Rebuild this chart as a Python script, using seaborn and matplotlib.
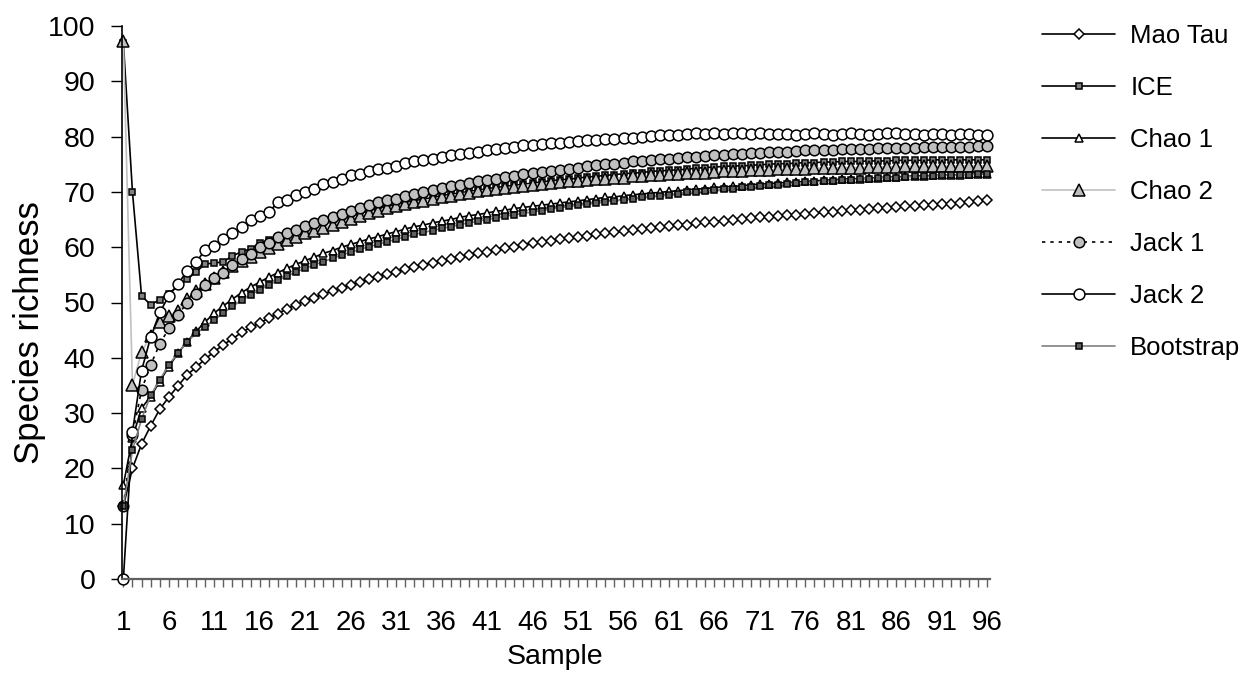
import matplotlib
matplotlib.use("Agg")
import matplotlib.pyplot as plt
import seaborn as sns
import numpy as np
import pandas as pd
from matplotlib.ticker import FixedLocator, MultipleLocator

samples = list(range(1, 97))

mao_tau = [13.2, 20.0, 24.4, 27.7, 30.7, 32.9, 34.9, 36.9, 38.3, 39.8,
           41.1, 42.4, 43.4, 44.6, 45.5, 46.3, 47.2, 48.0, 48.9, 49.6,
           50.3, 50.9, 51.5, 52.1, 52.7, 53.2, 53.7, 54.2, 54.7, 55.2,
           55.6, 56.0, 56.4, 56.8, 57.2, 57.5, 57.9, 58.2, 58.6, 58.9,
           59.2, 59.5, 59.8, 60.1, 60.4, 60.7, 60.9, 61.2, 61.4, 61.6,
           61.9, 62.1, 62.3, 62.5, 62.7, 62.9, 63.1, 63.3, 63.4, 63.6,
           63.8, 64.0, 64.1, 64.3, 64.5, 64.6, 64.8, 64.9, 65.1, 65.2,
           65.4, 65.5, 65.6, 65.8, 65.9, 66.0, 66.2, 66.3, 66.4, 66.5,
           66.7, 66.8, 66.9, 67.0, 67.1, 67.2, 67.4, 67.5, 67.6, 67.7,
           67.8, 67.9, 68.0, 68.1, 68.3, 68.6]

ice = [97.0, 70.0, 51.2, 49.6, 50.5, 51.6, 53.0, 54.2, 55.5, 57.0,
       57.1, 57.4, 58.4, 59.2, 59.7, 60.7, 61.3, 61.9, 62.4, 63.0,
       63.5, 64.0, 64.5, 65.0, 65.4, 65.8, 66.2, 66.6, 67.0, 67.4,
       67.7, 68.1, 68.4, 68.7, 69.0, 69.3, 69.6, 69.8, 70.1, 70.3,
       70.6, 70.8, 71.0, 71.2, 71.4, 71.6, 71.8, 72.0, 72.2, 72.3,
       72.5, 72.7, 72.8, 73.0, 73.1, 73.3, 73.4, 73.5, 73.7, 73.8,
       73.9, 74.0, 74.1, 74.3, 74.4, 74.5, 74.6, 74.7, 74.7, 74.8,
       74.9, 75.0, 75.1, 75.1, 75.2, 75.3, 75.3, 75.4, 75.4, 75.5,
       75.5, 75.5, 75.6, 75.6, 75.6, 75.7, 75.7, 75.7, 75.7, 75.8,
       75.8, 75.8, 75.8, 75.8, 75.8, 75.8]

chao1 = [17.0, 25.5, 30.9, 33.0, 35.7, 38.4, 40.8, 42.9, 44.8, 46.5,
         48.1, 49.4, 50.6, 51.8, 52.8, 53.7, 54.6, 55.4, 56.2, 56.9,
         57.6, 58.2, 58.9, 59.4, 60.0, 60.5, 61.0, 61.5, 61.9, 62.4,
         62.8, 63.3, 63.7, 64.0, 64.4, 64.7, 65.0, 65.4, 65.7, 65.9,
         66.2, 66.5, 66.7, 67.0, 67.2, 67.4, 67.6, 67.8, 68.0, 68.2,
         68.4, 68.6, 68.8, 69.0, 69.1, 69.3, 69.5, 69.6, 69.8, 69.9,
         70.1, 70.2, 70.4, 70.5, 70.6, 70.8, 70.9, 71.0, 71.1, 71.3,
         71.4, 71.5, 71.6, 71.7, 71.8, 71.9, 72.0, 72.1, 72.2, 72.3,
         72.4, 72.4, 72.5, 72.6, 72.7, 72.7, 72.8, 72.9, 72.9, 73.0,
         73.0, 73.1, 73.1, 73.2, 73.2, 73.3]

chao2 = [97.2, 35.1, 41.0, 44.0, 46.5, 47.6, 48.5, 50.6, 52.0, 53.3,
         54.5, 55.6, 56.6, 57.5, 58.3, 59.2, 59.9, 60.6, 61.3, 61.9,
         62.5, 63.0, 63.5, 64.0, 64.6, 65.1, 65.6, 66.1, 66.6, 67.0,
         67.4, 67.8, 68.1, 68.4, 68.7, 69.0, 69.3, 69.6, 69.8, 70.1,
         70.3, 70.5, 70.7, 70.9, 71.1, 71.3, 71.5, 71.6, 71.8, 71.9,
         72.0, 72.1, 72.3, 72.4, 72.5, 72.6, 72.8, 72.9, 73.0, 73.1,
         73.2, 73.3, 73.4, 73.5, 73.5, 73.6, 73.7, 73.8, 73.8, 73.9,
         74.0, 74.0, 74.1, 74.1, 74.2, 74.2, 74.3, 74.3, 74.3, 74.4,
         74.4, 74.4, 74.5, 74.5, 74.5, 74.5, 74.6, 74.6, 74.6, 74.6,
         74.6, 74.7, 74.7, 74.7, 74.7, 74.7]

jack1 = [13.2, 26.0, 34.2, 38.7, 42.5, 45.3, 47.8, 49.9, 51.6, 53.2,
         54.4, 55.4, 56.7, 57.9, 58.7, 60.0, 60.8, 61.8, 62.6, 63.1,
         63.8, 64.4, 64.9, 65.5, 66.0, 66.6, 67.1, 67.6, 68.1, 68.5,
         68.8, 69.2, 69.6, 70.0, 70.3, 70.7, 71.0, 71.3, 71.6, 71.9,
         72.2, 72.4, 72.7, 72.9, 73.2, 73.4, 73.6, 73.8, 74.0, 74.2,
         74.4, 74.6, 74.8, 75.0, 75.1, 75.3, 75.5, 75.6, 75.8, 75.9,
         76.0, 76.2, 76.3, 76.4, 76.5, 76.6, 76.7, 76.8, 76.9, 77.0,
         77.1, 77.2, 77.2, 77.3, 77.4, 77.5, 77.5, 77.6, 77.6, 77.7,
         77.7, 77.8, 77.8, 77.9, 77.9, 78.0, 78.0, 78.0, 78.1, 78.1,
         78.1, 78.2, 78.2, 78.2, 78.3, 78.3]

jack2 = [0.0, 26.6, 37.7, 43.7, 48.2, 51.2, 53.3, 55.7, 57.3, 59.5,
         60.3, 61.5, 62.5, 63.6, 64.9, 65.6, 66.4, 68.1, 68.6, 69.4,
         70.0, 70.6, 71.4, 71.7, 72.3, 73.1, 73.2, 73.8, 74.1, 74.3,
         74.7, 75.3, 75.6, 75.8, 76.0, 76.3, 76.7, 76.9, 77.1, 77.3,
         77.6, 77.8, 77.9, 78.1, 78.4, 78.5, 78.6, 78.8, 78.9, 79.1,
         79.2, 79.3, 79.4, 79.5, 79.6, 79.7, 79.8, 79.9, 80.1, 80.2,
         80.2, 80.3, 80.4, 80.6, 80.5, 80.6, 80.5, 80.6, 80.6, 80.5,
         80.6, 80.5, 80.4, 80.5, 80.3, 80.4, 80.6, 80.4, 80.3, 80.5,
         80.6, 80.5, 80.2, 80.5, 80.6, 80.6, 80.5, 80.4, 80.2, 80.5,
         80.5, 80.3, 80.4, 80.4, 80.2, 80.3]

bootstrap = [13.2, 23.3, 28.9, 33.2, 36.0, 38.7, 40.9, 42.9, 44.4, 45.6,
             46.9, 48.1, 49.3, 50.4, 51.4, 52.3, 53.2, 54.0, 54.8, 55.5,
             56.2, 56.8, 57.4, 58.0, 58.6, 59.1, 59.6, 60.1, 60.5, 61.0,
             61.4, 61.9, 62.3, 62.7, 63.0, 63.4, 63.7, 64.1, 64.4, 64.7,
             65.0, 65.3, 65.6, 65.9, 66.1, 66.4, 66.6, 66.9, 67.1, 67.4,
             67.6, 67.8, 68.0, 68.2, 68.4, 68.6, 68.8, 69.0, 69.2, 69.3,
             69.5, 69.7, 69.9, 70.0, 70.2, 70.4, 70.5, 70.6, 70.8, 70.9,
             71.1, 71.2, 71.3, 71.5, 71.6, 71.7, 71.8, 71.9, 72.0, 72.1,
             72.2, 72.3, 72.4, 72.5, 72.6, 72.6, 72.7, 72.8, 72.8, 72.9,
             73.0, 73.0, 73.1, 73.1, 73.2, 73.3]

series_names = ["Mao Tau", "ICE", "Chao 1", "Chao 2", "Jack 1", "Jack 2", "Bootstrap"]
series_values = [mao_tau, ice, chao1, chao2, jack1, jack2, bootstrap]

x_tick_labels = [str(v) for v in range(1, 97, 5)]
y_ticks = list(range(0, 101, 10))

styles = {
    "Mao Tau":   dict(color="black", marker="D", markersize=4.6, markerfacecolor="white",
                      linestyle="-"),
    "ICE":       dict(color="black", marker="s", markersize=4.4, markerfacecolor="#808080",
                      linestyle="-"),
    "Chao 1":    dict(color="black", marker="^", markersize=6.0, markerfacecolor="white",
                      linestyle="-"),
    "Chao 2":    dict(color="#c0c0c0", marker="^", markersize=8.2, markerfacecolor="#c0c0c0",
                      linestyle="-"),
    "Jack 1":    dict(color="black", marker="o", markersize=7.6, markerfacecolor="#c0c0c0",
                      linestyle=(0, (2, 3))),
    "Jack 2":    dict(color="black", marker="o", markersize=7.8, markerfacecolor="white",
                      linestyle="-"),
    "Bootstrap": dict(color="#808080", marker="s", markersize=4.8, markerfacecolor="#606060",
                      linestyle="-"),
}

sns.set_style("ticks")
plt.rcParams["font.family"] = ["Liberation Sans", "DejaVu Sans"]
plt.rcParams["text.color"] = "black"
plt.rcParams["axes.labelcolor"] = "black"

fig = plt.figure(figsize=(12.55, 6.75), dpi=100)
ax = fig.add_axes([122 / 1255, 1 - 579 / 675, (990 - 122) / 1255, (579 - 26) / 675])

for name, vals in zip(series_names, series_values):
    df = pd.DataFrame({"Sample": samples, "Species richness": vals})
    st = styles[name]
    sns.lineplot(data=df, x="Sample", y="Species richness", ax=ax, label=name,
                 color=st["color"], marker=st["marker"], markersize=st["markersize"],
                 markerfacecolor=st["markerfacecolor"], markeredgecolor="black",
                 markeredgewidth=1.1, linewidth=1.2, linestyle=st["linestyle"],
                 clip_on=False)

ax.set_xlim(0.85, 96.3)
ax.set_ylim(0, 100)
ax.xaxis.set_major_locator(FixedLocator(list(range(1, 97, 5))))
ax.xaxis.set_minor_locator(MultipleLocator(1))
ax.set_xticklabels(x_tick_labels)
ax.set_yticks(y_ticks)

ax.tick_params(axis="x", which="both", direction="out", length=6, width=1.0,
               color="#606060", labelcolor="black", labelsize=20, pad=16)
ax.tick_params(axis="y", which="major", direction="out", length=8, width=1.0,
               color="black", labelcolor="black", labelsize=20.5, pad=11)

for s in ["top", "right"]:
    ax.spines[s].set_visible(False)
ax.spines["left"].set_color("black")
ax.spines["left"].set_linewidth(1.2)
ax.spines["bottom"].set_color("#606060")
ax.spines["bottom"].set_linewidth(1.6)

ax.set_xlabel("Sample", fontsize=20.5)
ax.xaxis.set_label_coords((555 - 122) / 868, -(657 - 579) / 553)
ax.xaxis.label.set_verticalalignment("center")
ax.set_ylabel("Species richness", fontsize=25)
ax.yaxis.set_label_coords((30 - 122) / 868, (579 - 333) / 553)
ax.yaxis.label.set_verticalalignment("center")

handles, labels = ax.get_legend_handles_labels()
ax.get_legend().remove()
fig.legend(handles, labels, loc="upper left", bbox_to_anchor=(1042 / 1255, 1 - 24 / 675),
           frameon=False, fontsize=18.5, handlelength=2.85, handletextpad=0.58,
           labelspacing=1.09, borderpad=0, borderaxespad=0)

fig.savefig("out.png", dpi=100)
